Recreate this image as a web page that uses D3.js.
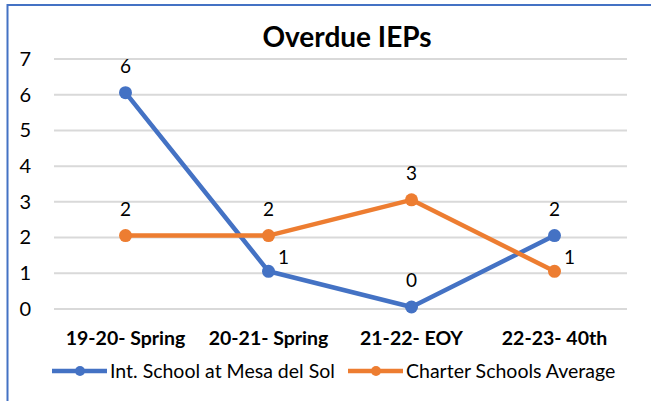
<!DOCTYPE html>
<html><head><meta charset="utf-8">
<script src="https://cdn.jsdelivr.net/npm/d3@7"></script>
<style>body{margin:0;background:#fff;}svg{display:block;font-family:Lato, "Open Sans", sans-serif;}</style>
</head><body><svg id="c" width="651" height="401"></svg>
<script>
const categories = ["19-20- Spring", "20-21- Spring", "21-22- EOY", "22-23- 40th"];
const schoolValues = [6, 1, 0, 2];
const charterValues = [2, 2, 3, 1];
const yTicks = [0, 1, 2, 3, 4, 5, 6, 7];
const seriesNames = ["Int. School at Mesa del Sol", "Charter Schools Average"];
const colors = ["#4472C4", "#ED7D31"];

const svg = d3.select("#c");
svg.append("rect").attr("x", 7.5).attr("y", 5).attr("width", 700).attr("height", 500)
  .attr("fill", "#fff").attr("stroke", "#4472C4").attr("stroke-width", 2);

svg.append("text").attr("x", 347).attr("y", 47).attr("text-anchor", "middle")
  .attr("font-size", 28).attr("font-weight", "bold").attr("fill", "#000").text("Overdue IEPs");

const x = d3.scaleBand().domain(categories).range([54, 626]);
const y = d3.scaleLinear().domain([0, 7]).range([309, 59]);

const g = svg.append("g");
g.selectAll("line.grid").data(yTicks).join("line").attr("class", "grid")
  .attr("x1", 54).attr("x2", 627).attr("y1", d => y(d)).attr("y2", d => y(d))
  .attr("stroke", "#D9D9D9").attr("stroke-width", 2);

const yAxis = svg.append("g").attr("transform", "translate(31,0)")
  .call(d3.axisLeft(y).tickValues(yTicks).tickSize(0).tickPadding(0).tickFormat(d3.format("d")));
yAxis.select(".domain").remove();
yAxis.selectAll("text").attr("font-size", 20).attr("fill", "#000").attr("font-family", "Lato, sans-serif");

const xAxis = svg.append("g").attr("transform", "translate(0,345)")
  .call(d3.axisBottom(x).tickSize(0).tickPadding(0));
xAxis.select(".domain").remove();
xAxis.selectAll("text").attr("dy", 0).attr("font-size", 19.5).attr("font-weight", "bold")
  .attr("fill", "#000").attr("font-family", "Lato, sans-serif");

const cx = c => x(c) + x.bandwidth() / 2;
const series = [schoolValues, charterValues];
const labelPos = [["above", "right", "above", "above"], ["above", "above", "above", "right"]];
const line = d3.line().x((d, i) => cx(categories[i])).y(d => y(d));
series.forEach((vals, s) => {
  const sg = svg.append("g").attr("transform", "translate(0,-2)");
  sg.append("path").datum(vals).attr("d", line).attr("fill", "none")
    .attr("stroke", colors[s]).attr("stroke-width", 4.5).attr("stroke-linejoin", "round");
  sg.selectAll("circle").data(vals).join("circle")
    .attr("cx", (d, i) => cx(categories[i])).attr("cy", d => y(d)).attr("r", 6.5)
    .attr("fill", colors[s]);
  sg.selectAll("text").data(vals).join("text")
    .attr("x", (d, i) => labelPos[s][i] === "right" ? cx(categories[i]) + 15 : cx(categories[i]))
    .attr("y", (d, i) => labelPos[s][i] === "right" ? y(d) - 7 : y(d) - 20)
    .attr("text-anchor", "middle")
    .attr("font-size", 19).attr("fill", "#000").text(d => d);
});

const legend = svg.append("g").attr("transform", "translate(0,371)");
const legX = [52, 348];
seriesNames.forEach((n, s) => {
  const lg = legend.append("g").attr("transform", `translate(${legX[s]},0)`);
  lg.append("line").attr("x1", 0).attr("x2", 55).attr("y1", 0).attr("y2", 0)
    .attr("stroke", colors[s]).attr("stroke-width", 4.5);
  lg.append("circle").attr("cx", 28).attr("cy", 0).attr("r", 5).attr("fill", colors[s]);
  lg.append("text").attr("x", 58).attr("y", 7).attr("font-size", 19.5).attr("fill", "#000").text(n);
});
</script></body></html>
